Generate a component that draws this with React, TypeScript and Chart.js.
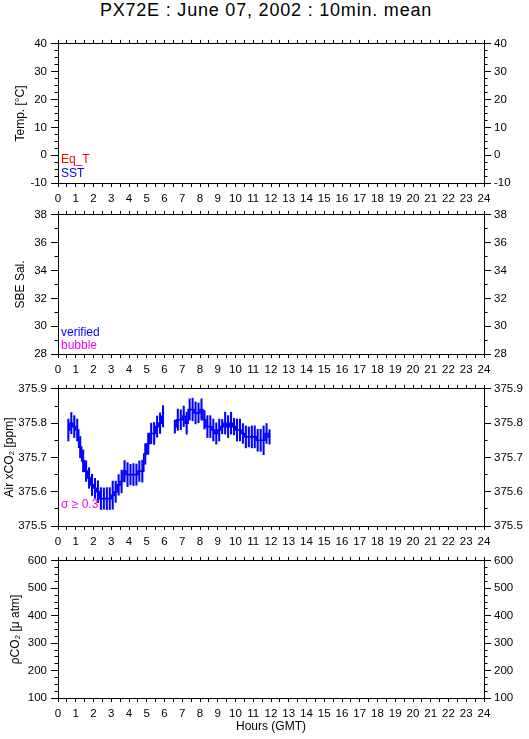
import React, { useEffect, useRef } from 'react';
import { Chart, registerables } from 'chart.js';

Chart.register(...registerables);

const FONT = "'Liberation Sans', Arial, Helvetica, sans-serif";
const BLUE = '#0000ff';
const RED = '#ff0000';
const MAGENTA = '#ff00ff';

const chartTitle = 'PX72E : June 07, 2002 : 10min. mean';
const xAxisTitle = 'Hours (GMT)';
const hourMin = 0;
const hourMax = 24;

// panel setup
const panelTitles = ['Temp. [°C]', 'SBE Sal.', 'Air xCO₂ [ppm]', 'ρCO₂ [μ atm]'];
const panelYMin = [-10, 28, 375.5, 100];
const panelYMax = [40, 38, 375.9, 600];
const panelYMajor = [10, 2, 0.1, 100];
const panelYMinor = [2.5, 1, 0.05, 25];
const panelYDecimals = [0, 0, 1, 0];

const tempLegend = [
  { text: 'Eq_T', color: RED, dy: -20 },
  { text: 'SST', color: BLUE, dy: -6 },
];
const salLegend = [
  { text: 'verified', color: BLUE, dy: -18 },
  { text: 'bubble', color: MAGENTA, dy: -5 },
];
const co2Legend = [{ text: 'σ ≥ 0.3', color: MAGENTA, dy: -18 }];

// 10-minute means of atmospheric xCO2 (hours GMT)
const hours = [
  0.583, 0.75, 0.917, 1.083, 1.25, 1.417, 1.583, 1.75, 1.917, 2.083,
  2.25, 2.417, 2.583, 2.75, 2.917, 3.083, 3.25, 3.417, 3.583, 3.75,
  3.917, 4.083, 4.25, 4.417, 4.583, 4.75, 4.917, 5.083, 5.25, 5.417,
  5.583, 5.75, 5.917, 6.083, 6.25, 6.417, 6.583, 6.75, 6.917, 7.083,
  7.25, 7.417, 7.583, 7.75, 7.917, 8.083, 8.25, 8.417, 8.583, 8.75,
  8.917, 9.083, 9.25, 9.417, 9.583, 9.75, 9.917, 10.083, 10.25, 10.417,
  10.583, 10.75, 10.917, 11.083, 11.25, 11.417, 11.583, 11.75, 11.917,
];

const airXco2 = [
  375.78, 375.80, 375.79, 375.78, 375.73, 375.69, 375.66, 375.64, 375.62, 375.61,
  375.60, 375.58, 375.58, 375.58, 375.58, 375.59, 375.60, 375.62, 375.63, 375.66,
  375.65, 375.65, 375.65, 375.65, 375.66, 375.66, 375.71, 375.74, 375.77, 375.77,
  375.79, 375.80, 375.82, null, null, null, 375.79, 375.81, 375.81, 375.82,
  375.80, 375.84, 375.84, 375.83, 375.83, 375.84, 375.81, 375.79, 375.79, 375.78,
  375.77, 375.78, 375.79, 375.80, 375.79, 375.80, 375.79, 375.78, 375.78, 375.77,
  375.76, 375.76, 375.76, 375.76, 375.75, 375.75, 375.75, 375.77, 375.76,
];

const airXco2Sd = [
  0.032, 0.031, 0.032, 0.032, 0.031, 0.032, 0.030, 0.030, 0.031, 0.029,
  0.032, 0.032, 0.031, 0.032, 0.032, 0.041, 0.031, 0.030, 0.033, 0.031,
  0.035, 0.030, 0.032, 0.031, 0.030, 0.032, 0.030, 0.031, 0.030, 0.032,
  0.031, 0.030, 0.031, null, null, null, 0.019, 0.031, 0.029, 0.030,
  0.032, 0.031, 0.033, 0.032, 0.029, 0.031, 0.027, 0.032, 0.032, 0.032,
  0.031, 0.032, 0.021, 0.032, 0.032, 0.032, 0.024, 0.032, 0.032, 0.029,
  0.032, 0.029, 0.032, 0.032, 0.032, 0.032, 0.042, 0.029, 0.021,
];

// layout of the four panels (plot-area top / bottom, px)
const panelTop = [43, 214, 388, 560];
const panelBottom = [183, 354, 526, 698];
const panelTitlePad = [13, 13, 2, 8];
const PAGE_W = 529;
const PAGE_H = 739;
const LEFT_W = 58;
const RIGHT_W = 45;
const TOP_PAD = 10;
const TICK_FONT = 11.5;

const minorTicksPlugin = {
  id: 'minorTicks',
  afterDraw(chart: any, _args: any, opts: any) {
    const step = opts && opts.step;
    if (!step) return;
    const ctx = chart.ctx;
    ctx.save();
    ctx.strokeStyle = '#000';
    ctx.lineWidth = 1;
    ['y', 'y2'].forEach((id) => {
      const s = chart.scales[id];
      if (!s) return;
      const n = Math.round((s.max - s.min) / step);
      for (let i = 0; i <= n; i++) {
        const v = s.min + i * step;
        const py = Math.round(s.getPixelForValue(v) - 0.5) + 0.5;
        ctx.beginPath();
        if (s.position === 'left') {
          ctx.moveTo(s.right - opts.length, py);
          ctx.lineTo(s.right, py);
        } else {
          ctx.moveTo(s.left, py);
          ctx.lineTo(s.left + opts.length, py);
        }
        ctx.stroke();
      }
    });
    ctx.restore();
  },
};

const panelTextPlugin = {
  id: 'panelText',
  afterDraw(chart: any, _args: any, opts: any) {
    const items = (opts && opts.items) || [];
    const { ctx, chartArea } = chart;
    ctx.save();
    ctx.font = `12px ${FONT}`;
    ctx.textAlign = 'left';
    ctx.textBaseline = 'alphabetic';
    items.forEach((it: any) => {
      ctx.fillStyle = it.color;
      ctx.fillText(it.text, chartArea.left + 3, chartArea.bottom + it.dy);
    });
    ctx.restore();
  },
};

function buildConfig(k: number, bottomH: number): any {
  const legendItems = [tempLegend, salLegend, co2Legend, []][k];
  const isLast = k === 3;
  const dec = panelYDecimals[k];
  const yCommon = (position: string) => ({
    type: 'linear',
    position,
    min: panelYMin[k],
    max: panelYMax[k],
    beginAtZero: false,
    grid: { drawOnChartArea: false, drawTicks: true, tickLength: 7, color: '#000', tickColor: '#000' },
    border: { display: true, color: '#000', width: 1 },
    ticks: {
      stepSize: panelYMajor[k],
      color: '#000',
      padding: position === 'left' ? 4 : 3,
      font: { family: FONT, size: TICK_FONT },
      callback: (v: any) => Number(v).toFixed(dec),
    },
  });

  let datasets: any[] = [];
  if (k === 2) {
    const lineData = hours.map((h, i) => ({ x: h, y: airXco2[i] }));
    const barData: any[] = [];
    hours.forEach((h, i) => {
      const v = airXco2[i];
      const e = airXco2Sd[i];
      if (v != null && e != null) barData.push({ x: h, y: [v - e, v + e] });
    });
    datasets = [
      {
        type: 'line',
        data: lineData,
        borderColor: BLUE,
        backgroundColor: BLUE,
        borderWidth: 1.6,
        stepped: 'middle',
        pointRadius: 0,
        spanGaps: false,
        fill: false,
        xAxisID: 'x',
        yAxisID: 'y',
      },
      {
        type: 'bar',
        data: barData,
        backgroundColor: BLUE,
        borderWidth: 0,
        barThickness: 1.4,
        xAxisID: 'x',
        yAxisID: 'y',
      },
    ];
  }

  return {
    type: 'line',
    data: { datasets },
    plugins: [minorTicksPlugin, panelTextPlugin],
    options: {
      responsive: false,
      animation: false,
      events: [],
      layout: { padding: { top: TOP_PAD - 4, left: 0, right: 0, bottom: 0 }, autoPadding: false },
      plugins: {
        legend: { display: false },
        tooltip: { enabled: false },
        title: { display: false },
        minorTicks: { step: panelYMinor[k], length: 3.5 },
        panelText: { items: legendItems },
      },
      scales: {
        x: {
          type: 'linear',
          position: 'bottom',
          min: hourMin,
          max: hourMax,
          offset: false,
          grid: { drawOnChartArea: false, drawTicks: true, tickLength: 4, offset: false, color: '#000', tickColor: '#000' },
          border: { display: true, color: '#000', width: 1 },
          ticks: {
            stepSize: 0.5,
            autoSkip: false,
            maxRotation: 0,
            minRotation: 0,
            padding: 5,
            color: '#000',
            font: { family: FONT, size: TICK_FONT },
            callback: (v: any) => (Number.isInteger(Number(v)) ? String(v) : ''),
          },
          title: {
            display: isLast,
            text: xAxisTitle,
            color: '#000',
            font: { family: FONT, size: 12 },
            padding: { top: 0, bottom: 5 },
          },
          afterFit: (s: any) => {
            s.height = bottomH;
          },
        },
        x2: {
          type: 'linear',
          position: 'top',
          min: hourMin,
          max: hourMax,
          offset: false,
          grid: { drawOnChartArea: false, drawTicks: true, tickLength: 4, offset: false, color: '#000', tickColor: '#000' },
          border: { display: true, color: '#000', width: 1 },
          ticks: { stepSize: 0.5, display: false },
          afterFit: (s: any) => {
            s.height = 4;
          },
        },
        y: {
          ...yCommon('left'),
          title: {
            display: true,
            text: panelTitles[k],
            color: '#000',
            font: { family: FONT, size: 12 },
            padding: { top: panelTitlePad[k], bottom: 0 },
          },
          afterFit: (s: any) => {
            s.width = LEFT_W;
          },
        },
        y2: {
          ...yCommon('right'),
          afterFit: (s: any) => {
            s.width = RIGHT_W;
          },
        },
      },
    },
  };
}

function Panel({ k }: { k: number }) {
  const ref = useRef<HTMLCanvasElement | null>(null);
  const top = panelTop[k] - TOP_PAD;
  const bottomH = k === 3 ? PAGE_H - panelBottom[k] : 24;
  const height = panelBottom[k] - panelTop[k] + TOP_PAD + bottomH;
  useEffect(() => {
    if (!ref.current) return;
    const chart = new Chart(ref.current, buildConfig(k, bottomH));
    return () => chart.destroy();
  }, [k]);
  return (
    <canvas
      ref={ref}
      width={PAGE_W}
      height={height}
      style={{ position: 'absolute', left: 0, top, width: PAGE_W, height }}
    />
  );
}

export default function App() {
  return (
    <div
      style={{
        position: 'absolute',
        left: 0,
        top: 0,
        width: PAGE_W,
        height: PAGE_H,
        background: '#fff',
        overflow: 'hidden',
      }}
    >
      <div
        style={{
          position: 'absolute',
          left: 0,
          top: 1,
          width: PAGE_W,
          paddingLeft: 3,
          boxSizing: 'border-box',
          textAlign: 'center',
          fontFamily: FONT,
          fontSize: 18,
          lineHeight: '18px',
          letterSpacing: '0.8px',
          color: '#000',
          whiteSpace: 'nowrap',
        }}
      >
        {chartTitle}
      </div>
      {[0, 1, 2, 3].map((k) => (
        <Panel key={k} k={k} />
      ))}
    </div>
  );
}
